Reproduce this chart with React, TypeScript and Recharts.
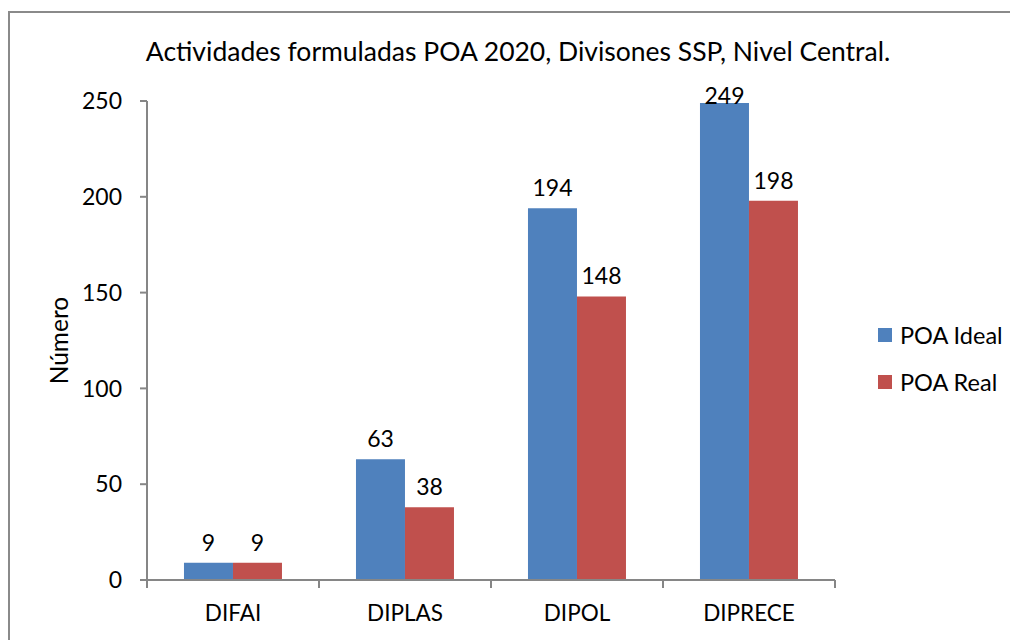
import React from "react";
import { BarChart, Bar, XAxis, YAxis, LabelList } from "recharts";

const categories = ["DIFAI", "DIPLAS", "DIPOL", "DIPRECE"];
const poaIdeal = [9, 63, 194, 249];
const poaReal = [9, 38, 148, 198];
const yTicks = [0, 50, 100, 150, 200, 250];
const seriesNames = ["POA Ideal", "POA Real"];

const data = categories.map((c, i) => ({ name: c, ideal: poaIdeal[i], real: poaReal[i] }));

const FONT = "Lato, 'Open Sans', sans-serif";
const AXIS = "#868686";
const BLUE = "#4F81BD";
const RED = "#C0504D";

const W = 1010;
const H = 632;
const M = { top: 93, right: 183, left: 79, bottom: 30 };
const YW = 60;
const XH = 30;
const plotW = W - M.left - M.right - YW;
const bw = plotW / categories.length;

const XTick = (props: any) => {
  const { x, y, payload, index } = props;
  return (
    <g>
      <line x1={x - bw / 2} x2={x - bw / 2} y1={y} y2={y + 8} stroke={AXIS} strokeWidth={2} />
      {index === categories.length - 1 && (
        <line x1={x + bw / 2} x2={x + bw / 2} y1={y} y2={y + 8} stroke={AXIS} strokeWidth={2} />
      )}
      <text x={x} y={y + 32} textAnchor="middle" dominantBaseline="central" fill="#000" fontSize={22.5} fontFamily={FONT}>
        {payload.value}
      </text>
    </g>
  );
};

const ValueLabel = (props: any) => {
  const { x, y, width, value } = props;
  const cy = Math.max(y - 21, M.top - 6);
  return (
    <text x={x + width / 2} y={cy} textAnchor="middle" dominantBaseline="central" fill="#000" fontSize={23} fontFamily={FONT}>
      {value}
    </text>
  );
};

export default function App() {
  const colors = [BLUE, RED];
  return (
    <div style={{ position: "relative", width: W, height: H, overflow: "hidden", background: "#fff" }}>
      <div
        style={{
          position: "absolute",
          left: 0,
          top: 3,
          width: 1200,
          height: 1000,
          border: "2px solid #8a8a8a",
          boxSizing: "border-box",
        }}
      />
      <div
        style={{
          position: "absolute",
          left: 0,
          top: 27,
          width: 1020,
          textAlign: "center",
          fontFamily: FONT,
          fontSize: 26.5,
          color: "#000",
          whiteSpace: "nowrap",
        }}
      >
        Actividades formuladas POA 2020, Divisones SSP, Nivel Central.
      </div>
      <div style={{ position: "absolute", left: 0, top: 0 }}>
        <BarChart width={W} height={H} data={data} margin={M} barCategoryGap="21.5%" barGap={0}>
          <XAxis
            dataKey="name"
            height={XH}
            tickLine={false}
            tickSize={0}
            tickMargin={0}
            axisLine={{ stroke: AXIS, strokeWidth: 2 }}
            tick={<XTick />}
            interval={0}
          />
          <YAxis
            width={YW}
            domain={[0, 250]}
            ticks={yTicks}
            interval={0}
            tickSize={7}
            tickMargin={18}
            axisLine={{ stroke: AXIS, strokeWidth: 2 }}
            tickLine={{ stroke: AXIS, strokeWidth: 2 }}
            tick={{ fill: "#000", fontSize: 23, fontFamily: FONT }}
            label={{
              value: "Número",
              angle: -90,
              position: "insideLeft",
              dx: -33,
              style: { fill: "#000", fontSize: 24.5, fontFamily: FONT, textAnchor: "middle" },
            }}
          />
          <Bar dataKey="ideal" name={seriesNames[0]} fill={BLUE} isAnimationActive={false}>
            <LabelList dataKey="ideal" content={<ValueLabel />} />
          </Bar>
          <Bar dataKey="real" name={seriesNames[1]} fill={RED} isAnimationActive={false}>
            <LabelList dataKey="real" content={<ValueLabel />} />
          </Bar>
        </BarChart>
      </div>
      <div style={{ position: "absolute", left: 870, top: 303, fontFamily: FONT, fontSize: 23.5, color: "#000" }}>
        {seriesNames.map((n, i) => (
          <div key={n} style={{ display: "flex", alignItems: "center", height: 47 }}>
            <span style={{ display: "inline-block", width: 14, height: 14, background: colors[i], marginRight: 8 }} />
            <span>{n}</span>
          </div>
        ))}
      </div>
    </div>
  );
}
